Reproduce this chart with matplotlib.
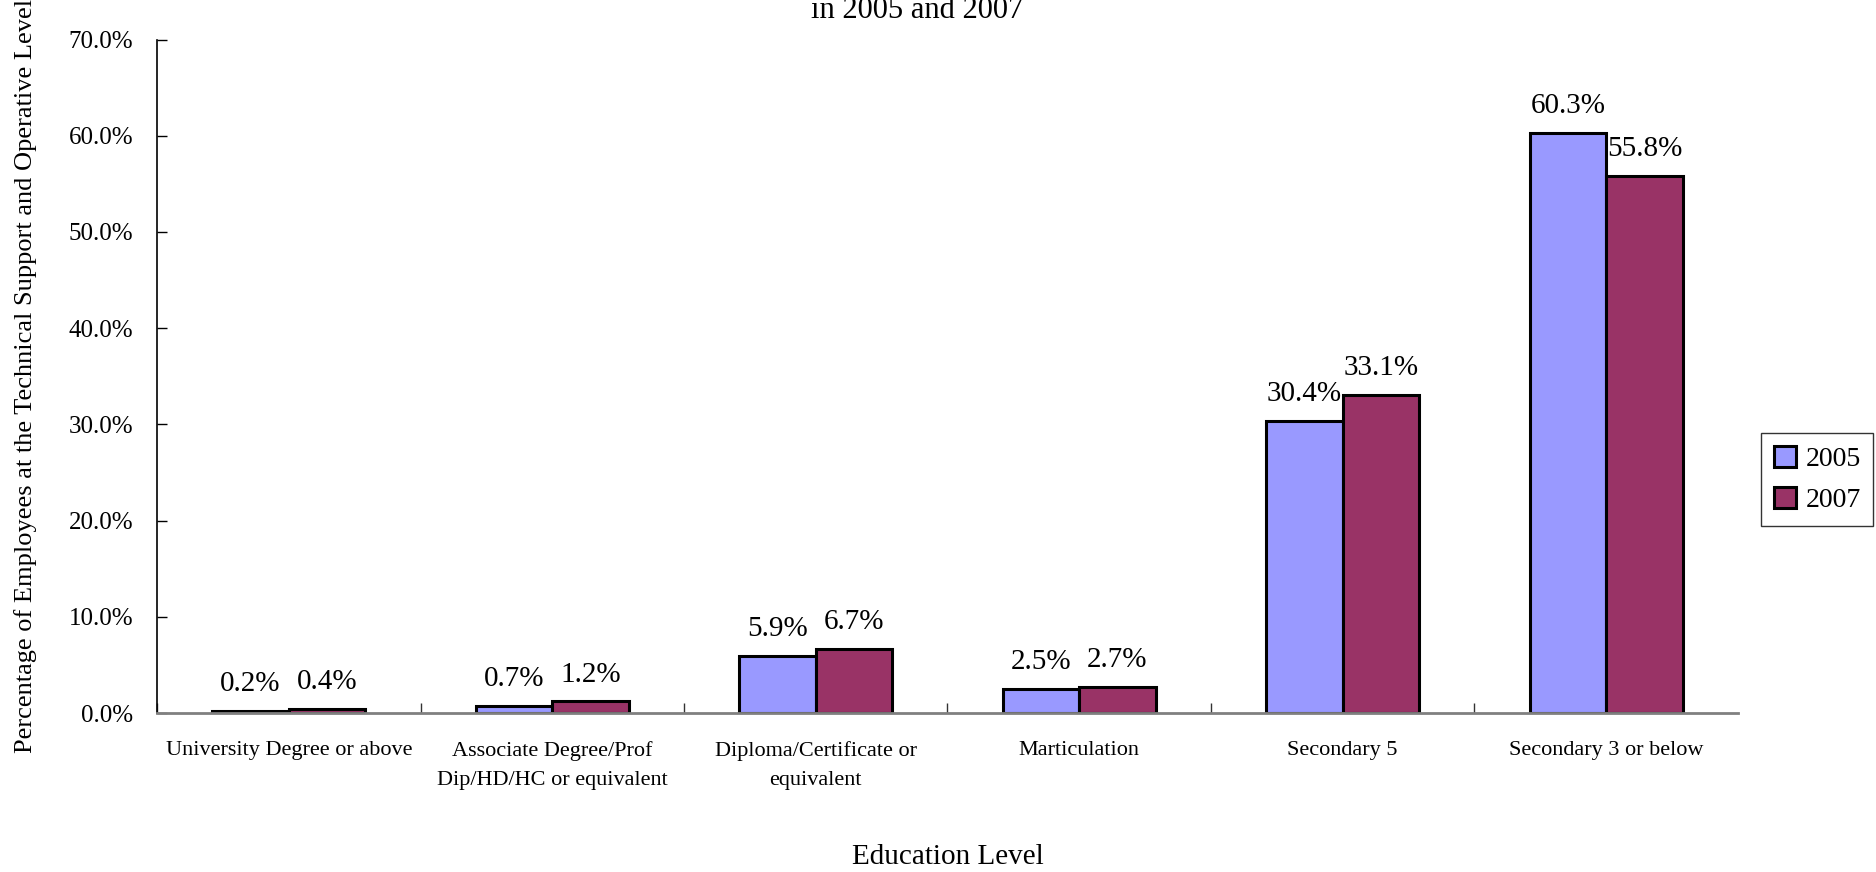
import numpy as np
import matplotlib
matplotlib.use("Agg")
import matplotlib.pyplot as plt
from matplotlib.ticker import FuncFormatter, FixedLocator

# education levels and share of employees (%) for each survey year
levels = ["University Degree or above",
          "Associate Degree/Prof\nDip/HD/HC or equivalent",
          "Diploma/Certificate or\nequivalent",
          "Marticulation",
          "Secondary 5",
          "Secondary 3 or below"]
share_2005 = [0.2, 0.7, 5.9, 2.5, 30.4, 60.3]
share_2007 = [0.4, 1.2, 6.7, 2.7, 33.1, 55.8]
years = ["2005", "2007"]

plt.rcParams["font.family"] = ["Liberation Serif", "DejaVu Serif"]

fig = plt.figure(figsize=(18.76, 8.72), dpi=100)
ax = fig.add_axes([0.0837, 0.1823, 0.8427, 0.7724])

x = np.arange(len(levels))
w = 0.29
b1 = ax.bar(x - w / 2, share_2005, w, color="#9999FF", edgecolor="black",
            linewidth=2.2, label=years[0])
b2 = ax.bar(x + w / 2, share_2007, w, color="#993366", edgecolor="black",
            linewidth=2.2, label=years[1])

for bars in (b1, b2):
    for rect in bars:
        h = rect.get_height()
        ax.annotate("%.1f%%" % h, (rect.get_x() + rect.get_width() / 2, h),
                    xytext=(0, 10), textcoords="offset points",
                    ha="center", va="bottom", fontsize=21)

ax.set_xlim(-0.5, len(levels) - 0.5)
ax.set_ylim(0, 70)
ax.set_yticks(np.arange(0, 71, 10))
ax.yaxis.set_major_formatter(FuncFormatter(lambda v, p: "%.1f%%" % v))
ax.tick_params(axis="y", direction="in", length=7, width=1, pad=17,
               labelsize=18, colors="black")

# category names centred under each group, tick marks on the boundaries
ax.xaxis.set_major_locator(FixedLocator(x - 0.5))
ax.xaxis.set_minor_locator(FixedLocator(x))
ax.xaxis.set_major_formatter(FuncFormatter(lambda v, p: ""))
ax.set_xticklabels(levels, minor=True)
ax.tick_params(axis="x", which="major", direction="in", length=7, width=1,
               color="#333333")
ax.tick_params(axis="x", which="minor", length=0, pad=20, labelsize=16)
for lab in ax.get_xticklabels(minor=True):
    lab.set_linespacing(1.75)

for side in ("top", "right"):
    ax.spines[side].set_visible(False)
ax.spines["left"].set_linewidth(1.2)
ax.spines["bottom"].set_color("#808080")
ax.spines["bottom"].set_linewidth(2)

ax.set_xlabel("Education Level", fontsize=21)
ax.xaxis.set_label_coords(0.5, -0.214)
ax.xaxis.label.set_va("center")
ax.set_ylabel("Percentage of Employees at the Technical Support and Operative Level",
              fontsize=19)
ax.yaxis.set_label_coords(-0.083, 0.5)
ax.yaxis.label.set_va("center")

fig.text(0.489, 0.971,
         "Education Level of Employees at the Technical Support and Operative Level\n"
         "in 2005 and 2007",
         ha="center", va="bottom", fontsize=22, linespacing=1.3)

leg = fig.legend(handles=[b1, b2], loc="center left",
                 bbox_to_anchor=(1761 / 1876, 1 - 479.5 / 872),
                 fontsize=20, frameon=True, fancybox=False,
                 handlelength=0.8, handleheight=0.8, handletextpad=0.35,
                 borderpad=0.45, labelspacing=0.55, borderaxespad=0)
leg.get_frame().set_edgecolor("black")
leg.get_frame().set_linewidth(1)

fig.savefig("out.png", dpi=100)
